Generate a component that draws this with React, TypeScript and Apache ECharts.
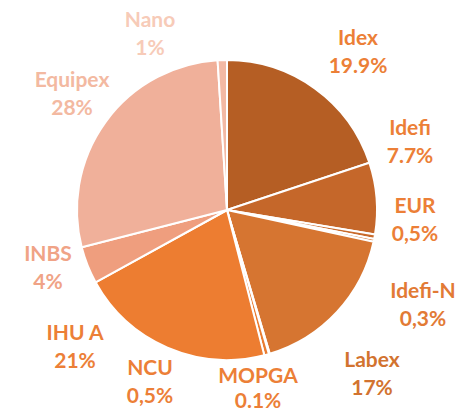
import React, { useEffect, useRef } from "react";
import * as echarts from "echarts";

const categories = ["Idex", "Idefi", "EUR", "Idefi-N", "Labex", "MOPGA", "NCU", "IHU A", "INBS", "Equipex", "Nano"];
const values = [19.9, 7.7, 0.5, 0.3, 17, 0.1, 0.5, 21, 4, 28, 1];
const percentLabels = ["19.9%", "7.7%", "0,5%", "0,3%", "17%", "0.1%", "0,5%", "21%", "4%", "28%", "1%"];

const sliceColors = ["#B55E24", "#C5672A", "#C96A2B", "#CE6E2D", "#D67531", "#E27A31", "#E97C31", "#ED7D31", "#EF9E7E", "#F0B09A", "#F3B9A4"];
const labelColors = ["#EC7F37", "#EC7F37", "#EC7F37", "#E27A35", "#D2732F", "#EC7F37", "#EC7F37", "#EC7F37", "#F0A386", "#F3B9A1", "#F7CBB8"];
const labelPos: [number, number][] = [
  [358, 50], [410, 140], [415, 218], [423, 303], [372, 372], [258, 387],
  [150, 380], [75, 345], [48, 266], [72, 92], [150, 32],
];

export default function App() {
  const ref = useRef<HTMLDivElement>(null);
  useEffect(() => {
    document.body.style.margin = "0";
    const chart = echarts.init(ref.current!, null, { renderer: "svg" });
    chart.setOption({
      animation: false,
      backgroundColor: "#ffffff",
      series: [
        {
          type: "pie",
          center: [227, 210],
          radius: 150,
          startAngle: 90,
          clockwise: true,
          avoidLabelOverlap: false,
          itemStyle: { borderColor: "#ffffff", borderWidth: 2 },
          labelLine: { show: false },
          label: {
            show: true,
            position: "outside",
            fontFamily: "Lato",
            fontWeight: "bold",
            fontSize: 21,
            lineHeight: 28,
            align: "center",
            formatter: (p: any) => `${p.name}\n${percentLabels[p.dataIndex]}`,
          },
          labelLayout: (p: any) => ({
            x: labelPos[p.dataIndex][0],
            y: labelPos[p.dataIndex][1],
            align: "center",
            verticalAlign: "middle",
          }),
          data: categories.map((name, i) => ({
            name,
            value: values[i],
            itemStyle: { color: sliceColors[i] },
            label: i === 5 ? { color: labelColors[i], lineHeight: 25 } : { color: labelColors[i] },
          })),
        },
      ],
    });
    return () => chart.dispose();
  }, []);
  return <div ref={ref} style={{ width: 457, height: 412 }} />;
}
